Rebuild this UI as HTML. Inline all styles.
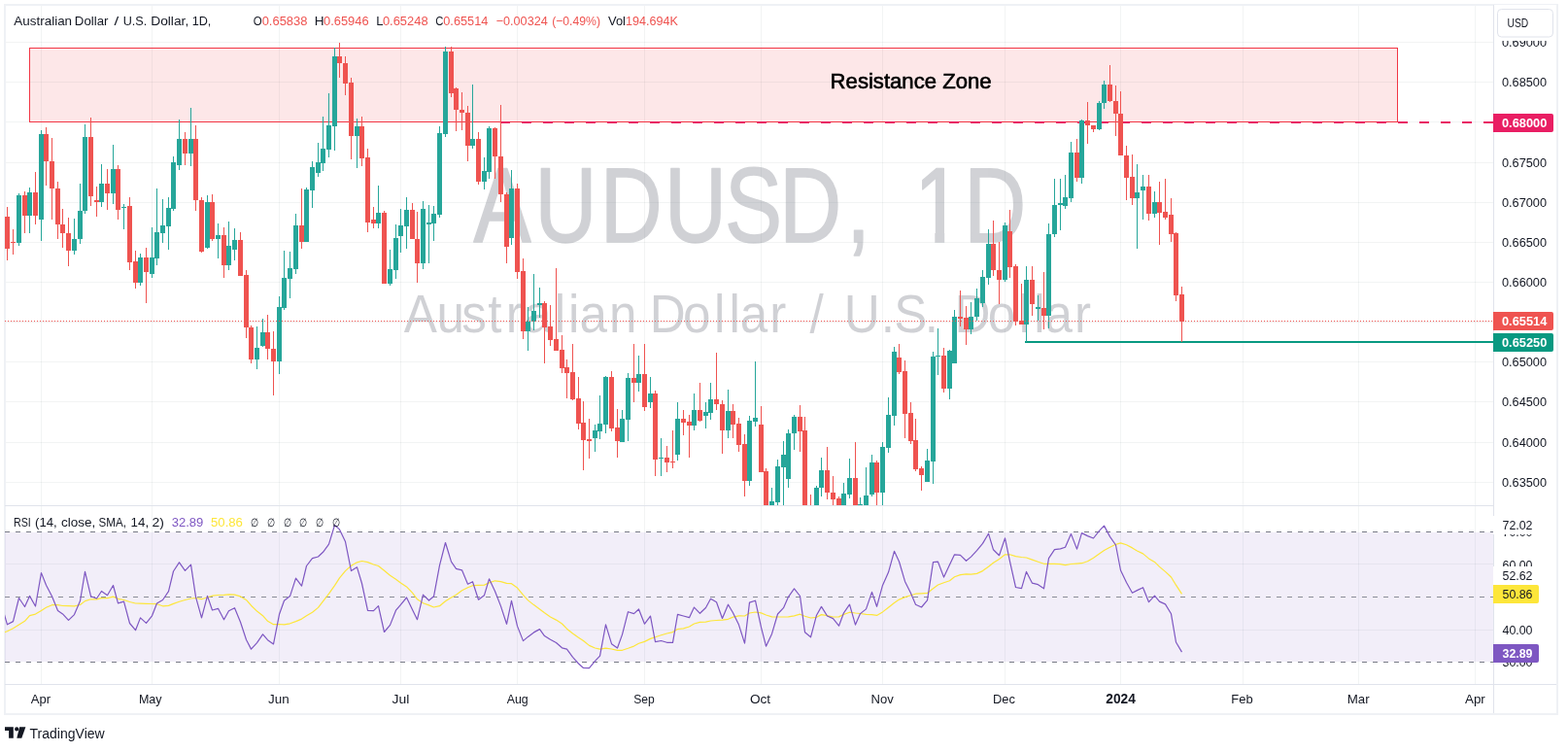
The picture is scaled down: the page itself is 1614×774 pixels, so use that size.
<!DOCTYPE html>
<html><head><meta charset="utf-8"><title>AUDUSD 1D</title>
<style>
html,body{margin:0;padding:0;background:#fff;}
body{width:1614px;height:774px;overflow:hidden;}
svg{display:block;}
text{font-family:'Liberation Sans', Arial, sans-serif;}
</style></head><body>
<svg width="1614" height="774" viewBox="0 0 1614 774">
<rect x="0" y="0" width="1614" height="774" fill="#ffffff"/>

<defs><clipPath id="mainclip"><rect x="5" y="5" width="1532" height="515"/></clipPath><clipPath id="rsiclip"><rect x="5" y="521" width="1532" height="183"/></clipPath></defs>
<rect x="42" y="5" width="1" height="699" fill="rgba(30,60,60,0.06)"/><rect x="156" y="5" width="1" height="699" fill="rgba(30,60,60,0.06)"/><rect x="287" y="5" width="1" height="699" fill="rgba(30,60,60,0.06)"/><rect x="412" y="5" width="1" height="699" fill="rgba(30,60,60,0.06)"/><rect x="532" y="5" width="1" height="699" fill="rgba(30,60,60,0.06)"/><rect x="663" y="5" width="1" height="699" fill="rgba(30,60,60,0.06)"/><rect x="783" y="5" width="1" height="699" fill="rgba(30,60,60,0.06)"/><rect x="908" y="5" width="1" height="699" fill="rgba(30,60,60,0.06)"/><rect x="1034" y="5" width="1" height="699" fill="rgba(30,60,60,0.06)"/><rect x="1153" y="5" width="1" height="699" fill="rgba(30,60,60,0.06)"/><rect x="1279" y="5" width="1" height="699" fill="rgba(30,60,60,0.06)"/><rect x="1398" y="5" width="1" height="699" fill="rgba(30,60,60,0.06)"/><rect x="1518" y="5" width="1" height="699" fill="rgba(30,60,60,0.06)"/><rect x="5" y="43" width="1532" height="1" fill="rgba(30,60,60,0.06)"/><rect x="5" y="84" width="1532" height="1" fill="rgba(30,60,60,0.06)"/><rect x="5" y="125" width="1532" height="1" fill="rgba(30,60,60,0.06)"/><rect x="5" y="167" width="1532" height="1" fill="rgba(30,60,60,0.06)"/><rect x="5" y="208" width="1532" height="1" fill="rgba(30,60,60,0.06)"/><rect x="5" y="249" width="1532" height="1" fill="rgba(30,60,60,0.06)"/><rect x="5" y="290" width="1532" height="1" fill="rgba(30,60,60,0.06)"/><rect x="5" y="331" width="1532" height="1" fill="rgba(30,60,60,0.06)"/><rect x="5" y="372" width="1532" height="1" fill="rgba(30,60,60,0.06)"/><rect x="5" y="413" width="1532" height="1" fill="rgba(30,60,60,0.06)"/><rect x="5" y="455" width="1532" height="1" fill="rgba(30,60,60,0.06)"/><rect x="5" y="496" width="1532" height="1" fill="rgba(30,60,60,0.06)"/><rect x="5" y="580" width="1532" height="1" fill="rgba(30,60,60,0.06)"/><rect x="5" y="648" width="1532" height="1" fill="rgba(30,60,60,0.06)"/>
<rect x="5" y="5" width="1598" height="730" fill="none" stroke="#eff1f5" stroke-width="2"/><rect x="5" y="520" width="1597" height="1" fill="#e0e3eb"/><rect x="5" y="704" width="1597" height="1" fill="#e0e3eb"/><rect x="1537" y="5" width="1" height="729" fill="#e0e3eb"/>
<defs><clipPath id="wmclip"><path clip-rule="evenodd" d="M0 0 H1614 V774 H0 Z M935 238.2 H962.3 V252 H935 Z M972.2 238.2 H992 V252 H972.2 Z"/></clipPath></defs>
<g opacity="0.34" clip-path="url(#wmclip)"><text transform="scale(0.8158,1)" x="597.73 674.85 757.10 838.50 914.36 983.34 1068.02 1069.02 1153.71 1216.37" y="248.55" font-size="108.58" fill="#787b86" stroke="#787b86" stroke-width="1.5" stroke-linejoin="round" vector-effect="non-scaling-stroke">AUDUSD, 1D</text></g>
<g opacity="0.34"><text transform="scale(0.9295,1)" x="447.28 483.50 511.27 540.27 560.16 580.09 614.03 629.42 641.74 674.60 675.60 719.47 756.29 790.80 807.53 819.58 852.48 853.48 896.69 897.69 934.76 975.55 989.96 1023.96 1024.96 1056.98 1093.80 1128.31 1145.04 1157.09 1189.99" y="342.00" font-size="55.09" fill="#787b86">Australian Dollar / U.S. Dollar</text></g>
<rect x="30.5" y="49.5" width="1408" height="76" fill="rgba(242,54,69,0.12)" stroke="#f23645" stroke-width="1"/>
<text x="854.63" y="91.3" font-size="21.51" fill="#000000" textLength="165.93" lengthAdjust="spacingAndGlyphs" stroke="#000000" stroke-width="0.6">Resistance Zone</text>
<line x1="515" y1="126" x2="1537" y2="126" stroke="#e91e63" stroke-width="2" stroke-dasharray="10 12"/>
<line x1="1055" y1="352" x2="1537" y2="352" stroke="#089981" stroke-width="2"/>
<g clip-path="url(#mainclip)" shape-rendering="crispEdges"><rect x="7" y="213" width="1" height="55" fill="#ef5350"/><rect x="5" y="223" width="5" height="33" fill="#ef5350"/><rect x="13" y="236" width="1" height="26" fill="#ef5350"/><rect x="11" y="249" width="5" height="1" fill="#ef5350"/><rect x="19" y="199" width="1" height="54" fill="#26a69a"/><rect x="17" y="201" width="5" height="49" fill="#26a69a"/><rect x="25" y="197" width="1" height="43" fill="#ef5350"/><rect x="23" y="201" width="5" height="21" fill="#ef5350"/><rect x="30" y="193" width="1" height="47" fill="#26a69a"/><rect x="28" y="198" width="5" height="24" fill="#26a69a"/><rect x="36" y="177" width="1" height="54" fill="#ef5350"/><rect x="34" y="198" width="5" height="24" fill="#ef5350"/><rect x="42" y="134" width="1" height="114" fill="#26a69a"/><rect x="40" y="138" width="5" height="88" fill="#26a69a"/><rect x="47" y="131" width="1" height="60" fill="#ef5350"/><rect x="45" y="138" width="5" height="28" fill="#ef5350"/><rect x="53" y="142" width="1" height="84" fill="#ef5350"/><rect x="51" y="166" width="5" height="28" fill="#ef5350"/><rect x="59" y="187" width="1" height="59" fill="#ef5350"/><rect x="57" y="194" width="5" height="37" fill="#ef5350"/><rect x="64" y="215" width="1" height="40" fill="#ef5350"/><rect x="62" y="231" width="5" height="9" fill="#ef5350"/><rect x="70" y="224" width="1" height="50" fill="#ef5350"/><rect x="68" y="240" width="5" height="18" fill="#ef5350"/><rect x="76" y="225" width="1" height="37" fill="#26a69a"/><rect x="74" y="246" width="5" height="12" fill="#26a69a"/><rect x="82" y="189" width="1" height="62" fill="#26a69a"/><rect x="80" y="217" width="5" height="29" fill="#26a69a"/><rect x="87" y="128" width="1" height="92" fill="#26a69a"/><rect x="85" y="141" width="5" height="76" fill="#26a69a"/><rect x="93" y="121" width="1" height="91" fill="#ef5350"/><rect x="91" y="141" width="5" height="61" fill="#ef5350"/><rect x="99" y="192" width="1" height="31" fill="#ef5350"/><rect x="97" y="206" width="5" height="2" fill="#ef5350"/><rect x="104" y="169" width="1" height="44" fill="#26a69a"/><rect x="102" y="189" width="5" height="19" fill="#26a69a"/><rect x="110" y="174" width="1" height="42" fill="#ef5350"/><rect x="108" y="189" width="5" height="10" fill="#ef5350"/><rect x="116" y="149" width="1" height="61" fill="#26a69a"/><rect x="114" y="174" width="5" height="25" fill="#26a69a"/><rect x="121" y="170" width="1" height="56" fill="#ef5350"/><rect x="119" y="174" width="5" height="42" fill="#ef5350"/><rect x="127" y="210" width="1" height="26" fill="#26a69a"/><rect x="125" y="213" width="5" height="1" fill="#26a69a"/><rect x="133" y="203" width="1" height="75" fill="#ef5350"/><rect x="131" y="212" width="5" height="58" fill="#ef5350"/><rect x="139" y="258" width="1" height="39" fill="#ef5350"/><rect x="137" y="269" width="5" height="22" fill="#ef5350"/><rect x="144" y="261" width="1" height="33" fill="#26a69a"/><rect x="142" y="265" width="5" height="26" fill="#26a69a"/><rect x="150" y="255" width="1" height="57" fill="#ef5350"/><rect x="148" y="265" width="5" height="15" fill="#ef5350"/><rect x="156" y="234" width="1" height="52" fill="#26a69a"/><rect x="154" y="265" width="5" height="17" fill="#26a69a"/><rect x="161" y="194" width="1" height="79" fill="#26a69a"/><rect x="159" y="239" width="5" height="27" fill="#26a69a"/><rect x="167" y="205" width="1" height="45" fill="#26a69a"/><rect x="165" y="232" width="5" height="8" fill="#26a69a"/><rect x="173" y="203" width="1" height="54" fill="#26a69a"/><rect x="171" y="214" width="5" height="19" fill="#26a69a"/><rect x="178" y="161" width="1" height="56" fill="#26a69a"/><rect x="176" y="167" width="5" height="48" fill="#26a69a"/><rect x="184" y="123" width="1" height="52" fill="#26a69a"/><rect x="182" y="143" width="5" height="27" fill="#26a69a"/><rect x="190" y="136" width="1" height="34" fill="#ef5350"/><rect x="188" y="143" width="5" height="15" fill="#ef5350"/><rect x="196" y="111" width="1" height="60" fill="#26a69a"/><rect x="194" y="143" width="5" height="15" fill="#26a69a"/><rect x="201" y="129" width="1" height="88" fill="#ef5350"/><rect x="199" y="143" width="5" height="63" fill="#ef5350"/><rect x="207" y="203" width="1" height="57" fill="#ef5350"/><rect x="205" y="206" width="5" height="53" fill="#ef5350"/><rect x="213" y="201" width="1" height="55" fill="#26a69a"/><rect x="211" y="208" width="5" height="47" fill="#26a69a"/><rect x="218" y="200" width="1" height="48" fill="#ef5350"/><rect x="216" y="208" width="5" height="38" fill="#ef5350"/><rect x="224" y="230" width="1" height="36" fill="#26a69a"/><rect x="222" y="242" width="5" height="4" fill="#26a69a"/><rect x="230" y="234" width="1" height="52" fill="#ef5350"/><rect x="228" y="242" width="5" height="31" fill="#ef5350"/><rect x="235" y="228" width="1" height="50" fill="#26a69a"/><rect x="233" y="253" width="5" height="20" fill="#26a69a"/><rect x="241" y="235" width="1" height="33" fill="#26a69a"/><rect x="239" y="247" width="5" height="10" fill="#26a69a"/><rect x="247" y="239" width="1" height="45" fill="#ef5350"/><rect x="245" y="247" width="5" height="37" fill="#ef5350"/><rect x="253" y="278" width="1" height="70" fill="#ef5350"/><rect x="251" y="283" width="5" height="54" fill="#ef5350"/><rect x="258" y="335" width="1" height="39" fill="#ef5350"/><rect x="256" y="337" width="5" height="33" fill="#ef5350"/><rect x="264" y="336" width="1" height="44" fill="#26a69a"/><rect x="262" y="358" width="5" height="12" fill="#26a69a"/><rect x="270" y="328" width="1" height="29" fill="#26a69a"/><rect x="268" y="342" width="5" height="14" fill="#26a69a"/><rect x="275" y="324" width="1" height="46" fill="#ef5350"/><rect x="273" y="342" width="5" height="17" fill="#ef5350"/><rect x="281" y="341" width="1" height="66" fill="#ef5350"/><rect x="279" y="359" width="5" height="13" fill="#ef5350"/><rect x="287" y="305" width="1" height="80" fill="#26a69a"/><rect x="285" y="316" width="5" height="56" fill="#26a69a"/><rect x="292" y="258" width="1" height="61" fill="#26a69a"/><rect x="290" y="286" width="5" height="31" fill="#26a69a"/><rect x="298" y="259" width="1" height="48" fill="#26a69a"/><rect x="296" y="276" width="5" height="11" fill="#26a69a"/><rect x="304" y="220" width="1" height="62" fill="#26a69a"/><rect x="302" y="232" width="5" height="45" fill="#26a69a"/><rect x="310" y="194" width="1" height="62" fill="#ef5350"/><rect x="308" y="232" width="5" height="17" fill="#ef5350"/><rect x="315" y="193" width="1" height="56" fill="#26a69a"/><rect x="313" y="195" width="5" height="54" fill="#26a69a"/><rect x="321" y="166" width="1" height="48" fill="#26a69a"/><rect x="319" y="172" width="5" height="24" fill="#26a69a"/><rect x="327" y="147" width="1" height="35" fill="#26a69a"/><rect x="325" y="167" width="5" height="11" fill="#26a69a"/><rect x="332" y="120" width="1" height="56" fill="#26a69a"/><rect x="330" y="153" width="5" height="15" fill="#26a69a"/><rect x="338" y="96" width="1" height="66" fill="#26a69a"/><rect x="336" y="129" width="5" height="25" fill="#26a69a"/><rect x="344" y="49" width="1" height="106" fill="#26a69a"/><rect x="342" y="58" width="5" height="72" fill="#26a69a"/><rect x="349" y="44" width="1" height="36" fill="#ef5350"/><rect x="347" y="58" width="5" height="7" fill="#ef5350"/><rect x="355" y="58" width="1" height="40" fill="#ef5350"/><rect x="353" y="65" width="5" height="21" fill="#ef5350"/><rect x="361" y="80" width="1" height="84" fill="#ef5350"/><rect x="359" y="85" width="5" height="55" fill="#ef5350"/><rect x="367" y="122" width="1" height="51" fill="#26a69a"/><rect x="365" y="130" width="5" height="10" fill="#26a69a"/><rect x="372" y="120" width="1" height="51" fill="#ef5350"/><rect x="370" y="130" width="5" height="33" fill="#ef5350"/><rect x="378" y="153" width="1" height="86" fill="#ef5350"/><rect x="376" y="162" width="5" height="67" fill="#ef5350"/><rect x="384" y="213" width="1" height="22" fill="#ef5350"/><rect x="382" y="226" width="5" height="4" fill="#ef5350"/><rect x="389" y="191" width="1" height="44" fill="#26a69a"/><rect x="387" y="219" width="5" height="11" fill="#26a69a"/><rect x="395" y="217" width="1" height="75" fill="#ef5350"/><rect x="393" y="219" width="5" height="73" fill="#ef5350"/><rect x="401" y="257" width="1" height="37" fill="#26a69a"/><rect x="399" y="277" width="5" height="15" fill="#26a69a"/><rect x="407" y="231" width="1" height="56" fill="#26a69a"/><rect x="405" y="245" width="5" height="33" fill="#26a69a"/><rect x="412" y="215" width="1" height="45" fill="#26a69a"/><rect x="410" y="232" width="5" height="11" fill="#26a69a"/><rect x="418" y="203" width="1" height="53" fill="#26a69a"/><rect x="416" y="216" width="5" height="17" fill="#26a69a"/><rect x="424" y="209" width="1" height="37" fill="#ef5350"/><rect x="422" y="216" width="5" height="30" fill="#ef5350"/><rect x="429" y="218" width="1" height="73" fill="#ef5350"/><rect x="427" y="246" width="5" height="25" fill="#ef5350"/><rect x="435" y="207" width="1" height="70" fill="#26a69a"/><rect x="433" y="215" width="5" height="56" fill="#26a69a"/><rect x="441" y="211" width="1" height="60" fill="#26a69a"/><rect x="439" y="229" width="5" height="2" fill="#26a69a"/><rect x="446" y="212" width="1" height="36" fill="#26a69a"/><rect x="444" y="220" width="5" height="10" fill="#26a69a"/><rect x="452" y="130" width="1" height="94" fill="#26a69a"/><rect x="450" y="137" width="5" height="84" fill="#26a69a"/><rect x="458" y="48" width="1" height="93" fill="#26a69a"/><rect x="456" y="53" width="5" height="85" fill="#26a69a"/><rect x="464" y="48" width="1" height="52" fill="#ef5350"/><rect x="462" y="53" width="5" height="43" fill="#ef5350"/><rect x="469" y="90" width="1" height="45" fill="#ef5350"/><rect x="467" y="91" width="5" height="22" fill="#ef5350"/><rect x="475" y="95" width="1" height="39" fill="#ef5350"/><rect x="473" y="113" width="5" height="3" fill="#ef5350"/><rect x="481" y="109" width="1" height="57" fill="#ef5350"/><rect x="479" y="116" width="5" height="34" fill="#ef5350"/><rect x="486" y="87" width="1" height="66" fill="#26a69a"/><rect x="484" y="143" width="5" height="7" fill="#26a69a"/><rect x="492" y="136" width="1" height="54" fill="#ef5350"/><rect x="490" y="143" width="5" height="44" fill="#ef5350"/><rect x="498" y="162" width="1" height="33" fill="#26a69a"/><rect x="496" y="176" width="5" height="11" fill="#26a69a"/><rect x="503" y="130" width="1" height="54" fill="#26a69a"/><rect x="501" y="132" width="5" height="45" fill="#26a69a"/><rect x="509" y="131" width="1" height="53" fill="#ef5350"/><rect x="507" y="132" width="5" height="29" fill="#ef5350"/><rect x="515" y="108" width="1" height="100" fill="#ef5350"/><rect x="513" y="161" width="5" height="39" fill="#ef5350"/><rect x="521" y="198" width="1" height="73" fill="#ef5350"/><rect x="519" y="200" width="5" height="54" fill="#ef5350"/><rect x="526" y="175" width="1" height="77" fill="#26a69a"/><rect x="524" y="194" width="5" height="51" fill="#26a69a"/><rect x="532" y="189" width="1" height="98" fill="#ef5350"/><rect x="530" y="194" width="5" height="86" fill="#ef5350"/><rect x="538" y="266" width="1" height="83" fill="#ef5350"/><rect x="536" y="279" width="5" height="62" fill="#ef5350"/><rect x="543" y="316" width="1" height="45" fill="#26a69a"/><rect x="541" y="331" width="5" height="10" fill="#26a69a"/><rect x="549" y="282" width="1" height="58" fill="#26a69a"/><rect x="547" y="320" width="5" height="11" fill="#26a69a"/><rect x="555" y="296" width="1" height="31" fill="#26a69a"/><rect x="553" y="312" width="5" height="2" fill="#26a69a"/><rect x="560" y="310" width="1" height="64" fill="#ef5350"/><rect x="558" y="312" width="5" height="25" fill="#ef5350"/><rect x="566" y="314" width="1" height="42" fill="#ef5350"/><rect x="564" y="336" width="5" height="14" fill="#ef5350"/><rect x="572" y="276" width="1" height="85" fill="#ef5350"/><rect x="570" y="349" width="5" height="12" fill="#ef5350"/><rect x="578" y="345" width="1" height="39" fill="#ef5350"/><rect x="576" y="360" width="5" height="19" fill="#ef5350"/><rect x="583" y="370" width="1" height="40" fill="#ef5350"/><rect x="581" y="378" width="5" height="6" fill="#ef5350"/><rect x="589" y="354" width="1" height="58" fill="#ef5350"/><rect x="587" y="383" width="5" height="28" fill="#ef5350"/><rect x="595" y="388" width="1" height="54" fill="#ef5350"/><rect x="593" y="410" width="5" height="26" fill="#ef5350"/><rect x="600" y="413" width="1" height="71" fill="#ef5350"/><rect x="598" y="435" width="5" height="18" fill="#ef5350"/><rect x="606" y="431" width="1" height="41" fill="#ef5350"/><rect x="604" y="452" width="5" height="2" fill="#ef5350"/><rect x="612" y="437" width="1" height="28" fill="#26a69a"/><rect x="610" y="443" width="5" height="8" fill="#26a69a"/><rect x="617" y="407" width="1" height="45" fill="#26a69a"/><rect x="615" y="436" width="5" height="8" fill="#26a69a"/><rect x="623" y="387" width="1" height="59" fill="#26a69a"/><rect x="621" y="388" width="5" height="49" fill="#26a69a"/><rect x="629" y="382" width="1" height="62" fill="#ef5350"/><rect x="627" y="388" width="5" height="53" fill="#ef5350"/><rect x="635" y="421" width="1" height="50" fill="#ef5350"/><rect x="633" y="440" width="5" height="14" fill="#ef5350"/><rect x="640" y="422" width="1" height="33" fill="#26a69a"/><rect x="638" y="431" width="5" height="24" fill="#26a69a"/><rect x="646" y="384" width="1" height="70" fill="#26a69a"/><rect x="644" y="389" width="5" height="43" fill="#26a69a"/><rect x="652" y="354" width="1" height="60" fill="#ef5350"/><rect x="650" y="389" width="5" height="5" fill="#ef5350"/><rect x="657" y="366" width="1" height="37" fill="#26a69a"/><rect x="655" y="385" width="5" height="9" fill="#26a69a"/><rect x="663" y="354" width="1" height="69" fill="#ef5350"/><rect x="661" y="385" width="5" height="34" fill="#ef5350"/><rect x="669" y="388" width="1" height="32" fill="#26a69a"/><rect x="667" y="405" width="5" height="9" fill="#26a69a"/><rect x="674" y="402" width="1" height="88" fill="#ef5350"/><rect x="672" y="405" width="5" height="68" fill="#ef5350"/><rect x="680" y="451" width="1" height="39" fill="#26a69a"/><rect x="678" y="471" width="5" height="1" fill="#26a69a"/><rect x="686" y="459" width="1" height="27" fill="#ef5350"/><rect x="684" y="471" width="5" height="5" fill="#ef5350"/><rect x="692" y="443" width="1" height="39" fill="#ef5350"/><rect x="690" y="475" width="5" height="1" fill="#ef5350"/><rect x="697" y="414" width="1" height="60" fill="#26a69a"/><rect x="695" y="431" width="5" height="37" fill="#26a69a"/><rect x="703" y="422" width="1" height="26" fill="#ef5350"/><rect x="701" y="431" width="5" height="4" fill="#ef5350"/><rect x="709" y="427" width="1" height="44" fill="#ef5350"/><rect x="707" y="434" width="5" height="4" fill="#ef5350"/><rect x="714" y="405" width="1" height="38" fill="#26a69a"/><rect x="712" y="422" width="5" height="16" fill="#26a69a"/><rect x="720" y="394" width="1" height="40" fill="#ef5350"/><rect x="718" y="422" width="5" height="11" fill="#ef5350"/><rect x="726" y="414" width="1" height="27" fill="#26a69a"/><rect x="724" y="424" width="5" height="4" fill="#26a69a"/><rect x="731" y="394" width="1" height="38" fill="#26a69a"/><rect x="729" y="411" width="5" height="14" fill="#26a69a"/><rect x="737" y="363" width="1" height="59" fill="#ef5350"/><rect x="735" y="411" width="5" height="5" fill="#ef5350"/><rect x="743" y="412" width="1" height="55" fill="#ef5350"/><rect x="741" y="416" width="5" height="27" fill="#ef5350"/><rect x="749" y="401" width="1" height="50" fill="#26a69a"/><rect x="747" y="423" width="5" height="20" fill="#26a69a"/><rect x="754" y="416" width="1" height="35" fill="#ef5350"/><rect x="752" y="423" width="5" height="14" fill="#ef5350"/><rect x="760" y="430" width="1" height="35" fill="#ef5350"/><rect x="758" y="436" width="5" height="22" fill="#ef5350"/><rect x="766" y="447" width="1" height="64" fill="#ef5350"/><rect x="764" y="457" width="5" height="38" fill="#ef5350"/><rect x="771" y="428" width="1" height="72" fill="#26a69a"/><rect x="769" y="433" width="5" height="62" fill="#26a69a"/><rect x="777" y="372" width="1" height="67" fill="#26a69a"/><rect x="775" y="430" width="5" height="4" fill="#26a69a"/><rect x="783" y="418" width="1" height="68" fill="#ef5350"/><rect x="781" y="437" width="5" height="49" fill="#ef5350"/><rect x="788" y="482" width="1" height="66" fill="#ef5350"/><rect x="786" y="485" width="5" height="52" fill="#ef5350"/><rect x="794" y="502" width="1" height="40" fill="#26a69a"/><rect x="792" y="516" width="5" height="19" fill="#26a69a"/><rect x="800" y="473" width="1" height="57" fill="#26a69a"/><rect x="798" y="480" width="5" height="37" fill="#26a69a"/><rect x="806" y="454" width="1" height="91" fill="#26a69a"/><rect x="804" y="468" width="5" height="13" fill="#26a69a"/><rect x="811" y="442" width="1" height="60" fill="#26a69a"/><rect x="809" y="446" width="5" height="47" fill="#26a69a"/><rect x="817" y="427" width="1" height="36" fill="#26a69a"/><rect x="815" y="429" width="5" height="17" fill="#26a69a"/><rect x="823" y="417" width="1" height="48" fill="#ef5350"/><rect x="821" y="429" width="5" height="15" fill="#ef5350"/><rect x="828" y="429" width="1" height="111" fill="#ef5350"/><rect x="826" y="443" width="5" height="87" fill="#ef5350"/><rect x="834" y="509" width="1" height="43" fill="#ef5350"/><rect x="832" y="530" width="5" height="15" fill="#ef5350"/><rect x="840" y="500" width="1" height="48" fill="#26a69a"/><rect x="838" y="502" width="5" height="38" fill="#26a69a"/><rect x="845" y="471" width="1" height="40" fill="#26a69a"/><rect x="843" y="484" width="5" height="18" fill="#26a69a"/><rect x="851" y="460" width="1" height="54" fill="#ef5350"/><rect x="849" y="484" width="5" height="23" fill="#ef5350"/><rect x="857" y="490" width="1" height="40" fill="#ef5350"/><rect x="855" y="507" width="5" height="7" fill="#ef5350"/><rect x="863" y="511" width="1" height="29" fill="#ef5350"/><rect x="861" y="513" width="5" height="19" fill="#ef5350"/><rect x="868" y="497" width="1" height="39" fill="#26a69a"/><rect x="866" y="508" width="5" height="24" fill="#26a69a"/><rect x="874" y="472" width="1" height="41" fill="#26a69a"/><rect x="872" y="492" width="5" height="17" fill="#26a69a"/><rect x="880" y="455" width="1" height="105" fill="#ef5350"/><rect x="878" y="492" width="5" height="48" fill="#ef5350"/><rect x="885" y="512" width="1" height="36" fill="#26a69a"/><rect x="883" y="519" width="5" height="21" fill="#26a69a"/><rect x="891" y="481" width="1" height="57" fill="#26a69a"/><rect x="889" y="510" width="5" height="22" fill="#26a69a"/><rect x="897" y="468" width="1" height="43" fill="#26a69a"/><rect x="895" y="476" width="5" height="33" fill="#26a69a"/><rect x="902" y="474" width="1" height="56" fill="#ef5350"/><rect x="900" y="476" width="5" height="31" fill="#ef5350"/><rect x="908" y="455" width="1" height="73" fill="#26a69a"/><rect x="906" y="460" width="5" height="47" fill="#26a69a"/><rect x="914" y="409" width="1" height="57" fill="#26a69a"/><rect x="912" y="427" width="5" height="34" fill="#26a69a"/><rect x="920" y="357" width="1" height="81" fill="#26a69a"/><rect x="918" y="362" width="5" height="66" fill="#26a69a"/><rect x="925" y="354" width="1" height="31" fill="#ef5350"/><rect x="923" y="368" width="5" height="15" fill="#ef5350"/><rect x="931" y="371" width="1" height="80" fill="#ef5350"/><rect x="929" y="382" width="5" height="44" fill="#ef5350"/><rect x="937" y="414" width="1" height="43" fill="#ef5350"/><rect x="935" y="425" width="5" height="29" fill="#ef5350"/><rect x="942" y="431" width="1" height="54" fill="#ef5350"/><rect x="940" y="453" width="5" height="30" fill="#ef5350"/><rect x="948" y="480" width="1" height="25" fill="#ef5350"/><rect x="946" y="482" width="5" height="7" fill="#ef5350"/><rect x="954" y="462" width="1" height="34" fill="#26a69a"/><rect x="952" y="474" width="5" height="22" fill="#26a69a"/><rect x="960" y="362" width="1" height="136" fill="#26a69a"/><rect x="958" y="367" width="5" height="108" fill="#26a69a"/><rect x="965" y="338" width="1" height="48" fill="#26a69a"/><rect x="963" y="366" width="5" height="1" fill="#26a69a"/><rect x="971" y="358" width="1" height="46" fill="#ef5350"/><rect x="969" y="366" width="5" height="34" fill="#ef5350"/><rect x="977" y="360" width="1" height="51" fill="#26a69a"/><rect x="975" y="361" width="5" height="39" fill="#26a69a"/><rect x="982" y="319" width="1" height="55" fill="#26a69a"/><rect x="980" y="326" width="5" height="48" fill="#26a69a"/><rect x="988" y="299" width="1" height="37" fill="#ef5350"/><rect x="986" y="326" width="5" height="2" fill="#ef5350"/><rect x="994" y="315" width="1" height="40" fill="#ef5350"/><rect x="992" y="327" width="5" height="12" fill="#ef5350"/><rect x="999" y="311" width="1" height="33" fill="#26a69a"/><rect x="997" y="326" width="5" height="13" fill="#26a69a"/><rect x="1005" y="297" width="1" height="33" fill="#26a69a"/><rect x="1003" y="307" width="5" height="19" fill="#26a69a"/><rect x="1011" y="278" width="1" height="38" fill="#26a69a"/><rect x="1009" y="285" width="5" height="27" fill="#26a69a"/><rect x="1017" y="236" width="1" height="57" fill="#26a69a"/><rect x="1015" y="251" width="5" height="35" fill="#26a69a"/><rect x="1022" y="227" width="1" height="57" fill="#ef5350"/><rect x="1020" y="251" width="5" height="27" fill="#ef5350"/><rect x="1028" y="249" width="1" height="64" fill="#ef5350"/><rect x="1026" y="278" width="5" height="10" fill="#ef5350"/><rect x="1034" y="229" width="1" height="61" fill="#26a69a"/><rect x="1032" y="232" width="5" height="56" fill="#26a69a"/><rect x="1039" y="216" width="1" height="70" fill="#ef5350"/><rect x="1037" y="238" width="5" height="37" fill="#ef5350"/><rect x="1045" y="272" width="1" height="63" fill="#ef5350"/><rect x="1043" y="274" width="5" height="57" fill="#ef5350"/><rect x="1051" y="292" width="1" height="42" fill="#ef5350"/><rect x="1049" y="330" width="5" height="4" fill="#ef5350"/><rect x="1056" y="274" width="1" height="78" fill="#26a69a"/><rect x="1054" y="288" width="5" height="46" fill="#26a69a"/><rect x="1062" y="274" width="1" height="51" fill="#ef5350"/><rect x="1060" y="288" width="5" height="25" fill="#ef5350"/><rect x="1068" y="304" width="1" height="26" fill="#26a69a"/><rect x="1066" y="316" width="5" height="2" fill="#26a69a"/><rect x="1074" y="280" width="1" height="59" fill="#ef5350"/><rect x="1072" y="317" width="5" height="8" fill="#ef5350"/><rect x="1079" y="230" width="1" height="108" fill="#26a69a"/><rect x="1077" y="241" width="5" height="84" fill="#26a69a"/><rect x="1085" y="184" width="1" height="60" fill="#26a69a"/><rect x="1083" y="211" width="5" height="30" fill="#26a69a"/><rect x="1091" y="184" width="1" height="53" fill="#26a69a"/><rect x="1089" y="209" width="5" height="2" fill="#26a69a"/><rect x="1096" y="180" width="1" height="35" fill="#26a69a"/><rect x="1094" y="203" width="5" height="9" fill="#26a69a"/><rect x="1102" y="146" width="1" height="62" fill="#26a69a"/><rect x="1100" y="157" width="5" height="47" fill="#26a69a"/><rect x="1108" y="143" width="1" height="44" fill="#ef5350"/><rect x="1106" y="157" width="5" height="26" fill="#ef5350"/><rect x="1113" y="123" width="1" height="66" fill="#26a69a"/><rect x="1111" y="124" width="5" height="59" fill="#26a69a"/><rect x="1119" y="105" width="1" height="43" fill="#ef5350"/><rect x="1117" y="124" width="5" height="5" fill="#ef5350"/><rect x="1125" y="129" width="1" height="7" fill="#ef5350"/><rect x="1123" y="129" width="5" height="4" fill="#ef5350"/><rect x="1131" y="104" width="1" height="30" fill="#26a69a"/><rect x="1129" y="106" width="5" height="27" fill="#26a69a"/><rect x="1136" y="83" width="1" height="29" fill="#26a69a"/><rect x="1134" y="87" width="5" height="19" fill="#26a69a"/><rect x="1142" y="67" width="1" height="38" fill="#ef5350"/><rect x="1140" y="87" width="5" height="17" fill="#ef5350"/><rect x="1148" y="88" width="1" height="52" fill="#ef5350"/><rect x="1146" y="104" width="5" height="13" fill="#ef5350"/><rect x="1153" y="94" width="1" height="66" fill="#ef5350"/><rect x="1151" y="117" width="5" height="43" fill="#ef5350"/><rect x="1159" y="150" width="1" height="56" fill="#ef5350"/><rect x="1157" y="160" width="5" height="23" fill="#ef5350"/><rect x="1165" y="159" width="1" height="52" fill="#ef5350"/><rect x="1163" y="182" width="5" height="22" fill="#ef5350"/><rect x="1170" y="169" width="1" height="87" fill="#26a69a"/><rect x="1168" y="198" width="5" height="6" fill="#26a69a"/><rect x="1176" y="180" width="1" height="46" fill="#26a69a"/><rect x="1174" y="192" width="5" height="4" fill="#26a69a"/><rect x="1182" y="180" width="1" height="47" fill="#ef5350"/><rect x="1180" y="192" width="5" height="28" fill="#ef5350"/><rect x="1188" y="197" width="1" height="27" fill="#26a69a"/><rect x="1186" y="208" width="5" height="12" fill="#26a69a"/><rect x="1193" y="187" width="1" height="65" fill="#ef5350"/><rect x="1191" y="208" width="5" height="11" fill="#ef5350"/><rect x="1199" y="184" width="1" height="42" fill="#ef5350"/><rect x="1197" y="218" width="5" height="6" fill="#ef5350"/><rect x="1205" y="204" width="1" height="45" fill="#ef5350"/><rect x="1203" y="221" width="5" height="20" fill="#ef5350"/><rect x="1210" y="239" width="1" height="71" fill="#ef5350"/><rect x="1208" y="240" width="5" height="64" fill="#ef5350"/><rect x="1216" y="295" width="1" height="57" fill="#ef5350"/><rect x="1214" y="303" width="5" height="28" fill="#ef5350"/></g>
<line x1="5" y1="330.5" x2="1537" y2="330.5" stroke="#ef5350" stroke-width="1" stroke-dasharray="1 2"/>
<text x="14.30" y="26.0" font-size="13.08" fill="#131722" textLength="59.80" lengthAdjust="spacingAndGlyphs">Australian</text>
<text x="76.84" y="26.0" font-size="13.08" fill="#131722" textLength="34.62" lengthAdjust="spacingAndGlyphs">Dollar</text>
<text x="117.50" y="26.0" font-size="13.08" fill="#131722" textLength="4.66" lengthAdjust="spacingAndGlyphs">/</text>
<text x="126.69" y="26.0" font-size="13.08" fill="#131722" textLength="24.58" lengthAdjust="spacingAndGlyphs">U.S.</text>
<text x="155.20" y="26.0" font-size="13.08" fill="#131722" textLength="39.07" lengthAdjust="spacingAndGlyphs">Dollar,</text>
<text x="197.72" y="26.0" font-size="13.08" fill="#131722" textLength="19.67" lengthAdjust="spacingAndGlyphs">1D,</text>
<text x="260.83" y="26.0" font-size="13.08" fill="#131722" textLength="8.92" lengthAdjust="spacingAndGlyphs">O</text>
<text x="269.68" y="26.0" font-size="13.08" fill="#ef5350" textLength="46.69" lengthAdjust="spacingAndGlyphs">0.65838</text>
<text x="323.71" y="26.0" font-size="13.08" fill="#131722" textLength="9.80" lengthAdjust="spacingAndGlyphs">H</text>
<text x="333.09" y="26.0" font-size="13.08" fill="#ef5350" textLength="46.49" lengthAdjust="spacingAndGlyphs">0.65946</text>
<text x="387.16" y="26.0" font-size="13.08" fill="#131722" textLength="7.20" lengthAdjust="spacingAndGlyphs">L</text>
<text x="393.88" y="26.0" font-size="13.08" fill="#ef5350" textLength="46.69" lengthAdjust="spacingAndGlyphs">0.65248</text>
<text x="448.24" y="26.0" font-size="13.08" fill="#131722" textLength="8.14" lengthAdjust="spacingAndGlyphs">C</text>
<text x="456.29" y="26.0" font-size="13.08" fill="#ef5350" textLength="46.02" lengthAdjust="spacingAndGlyphs">0.65514</text>
<text x="510.67" y="26.0" font-size="13.08" fill="#ef5350" textLength="53.09" lengthAdjust="spacingAndGlyphs">−0.00324</text>
<text x="568.17" y="26.0" font-size="13.08" fill="#ef5350" textLength="49.83" lengthAdjust="spacingAndGlyphs">(−0.49%)</text>
<text x="626.10" y="26.0" font-size="13.08" fill="#131722" textLength="17.87" lengthAdjust="spacingAndGlyphs">Vol</text>
<text x="644.02" y="26.0" font-size="13.08" fill="#ef5350" textLength="53.75" lengthAdjust="spacingAndGlyphs">194.694K</text>
<rect x="1538" y="5" width="64" height="699" fill="#ffffff"/><text x="1546" y="48" font-size="12" fill="#131722" textLength="46" lengthAdjust="spacingAndGlyphs">0.69000</text><text x="1546" y="89" font-size="12" fill="#131722" textLength="46" lengthAdjust="spacingAndGlyphs">0.68500</text><text x="1546" y="130" font-size="12" fill="#131722" textLength="46" lengthAdjust="spacingAndGlyphs">0.68000</text><text x="1546" y="172" font-size="12" fill="#131722" textLength="46" lengthAdjust="spacingAndGlyphs">0.67500</text><text x="1546" y="213" font-size="12" fill="#131722" textLength="46" lengthAdjust="spacingAndGlyphs">0.67000</text><text x="1546" y="254" font-size="12" fill="#131722" textLength="46" lengthAdjust="spacingAndGlyphs">0.66500</text><text x="1546" y="295" font-size="12" fill="#131722" textLength="46" lengthAdjust="spacingAndGlyphs">0.66000</text><text x="1546" y="336" font-size="12" fill="#131722" textLength="46" lengthAdjust="spacingAndGlyphs">0.65500</text><text x="1546" y="377" font-size="12" fill="#131722" textLength="46" lengthAdjust="spacingAndGlyphs">0.65000</text><text x="1546" y="418" font-size="12" fill="#131722" textLength="46" lengthAdjust="spacingAndGlyphs">0.64500</text><text x="1546" y="460" font-size="12" fill="#131722" textLength="46" lengthAdjust="spacingAndGlyphs">0.64000</text><text x="1546" y="501" font-size="12" fill="#131722" textLength="46" lengthAdjust="spacingAndGlyphs">0.63500</text><rect x="1538" y="5" width="64" height="37" fill="#ffffff"/><rect x="1541.5" y="9.5" width="57" height="28.5" rx="4" fill="#ffffff" stroke="#e0e3eb" stroke-width="1"/><text x="1551.6" y="28" font-size="12" fill="#131722" textLength="21.7" lengthAdjust="spacingAndGlyphs">USD</text><path d="M1537 117 H1597 a2 2 0 0 1 2 2 V134 a2 2 0 0 1 -2 2 H1537 Z" fill="#e91e63"/><text x="1546" y="131" font-size="12" font-weight="bold" fill="#ffffff" textLength="46.3" lengthAdjust="spacingAndGlyphs">0.68000</text><path d="M1537 321 H1597 a2 2 0 0 1 2 2 V338 a2 2 0 0 1 -2 2 H1537 Z" fill="#ef5350"/><text x="1546" y="335" font-size="12" font-weight="bold" fill="#ffffff" textLength="46.3" lengthAdjust="spacingAndGlyphs">0.65514</text><path d="M1537 343 H1597 a2 2 0 0 1 2 2 V360 a2 2 0 0 1 -2 2 H1537 Z" fill="#089981"/><text x="1546" y="357" font-size="12" font-weight="bold" fill="#ffffff" textLength="46.3" lengthAdjust="spacingAndGlyphs">0.65250</text>
<rect x="5" y="548" width="1532" height="133" fill="rgba(126,87,194,0.1)"/><line x1="5" y1="547.5" x2="1537" y2="547.5" stroke="#787b86" stroke-width="1" stroke-dasharray="5 6"/><line x1="5" y1="614.5" x2="1537" y2="614.5" stroke="rgba(120,123,134,0.85)" stroke-width="1" stroke-dasharray="5 6"/><line x1="5" y1="681.5" x2="1537" y2="681.5" stroke="#787b86" stroke-width="1" stroke-dasharray="5 6"/>
<g clip-path="url(#rsiclip)" fill="none" stroke-linejoin="round">
<polyline points="2.2,651.8 7.5,649.7 13.5,646.8 19.5,642.9 25.5,639.3 30.5,633.6 36.5,632.1 42.5,628.4 47.5,625.3 53.5,622.7 59.5,622.6 64.5,623.5 70.5,623.7 76.5,623.9 82.5,622.5 87.5,618.6 93.5,616.8 99.5,616.8 104.5,615.7 110.5,615.6 116.5,614.1 121.5,616.3 127.5,617.5 133.5,619.5 139.5,621.0 144.5,621.2 150.5,621.4 156.5,621.5 161.5,621.7 167.5,623.8 173.5,623.4 178.5,621.4 184.5,619.3 190.5,617.5 196.5,616.0 201.5,615.5 207.5,616.7 213.5,614.7 218.5,613.2 224.5,612.5 230.5,612.3 235.5,611.9 241.5,612.2 247.5,613.9 253.5,617.4 258.5,623.2 264.5,629.1 270.5,633.7 275.5,639.3 281.5,642.7 287.5,642.5 292.5,642.8 298.5,641.8 304.5,639.6 310.5,637.1 315.5,633.8 321.5,630.2 327.5,625.4 332.5,618.9 338.5,611.2 344.5,602.6 349.5,594.9 355.5,587.6 361.5,582.2 367.5,578.8 372.5,577.5 378.5,578.6 384.5,581.0 389.5,582.5 395.5,587.3 401.5,592.2 407.5,596.2 412.5,600.0 418.5,603.9 424.5,610.2 429.5,616.8 435.5,620.7 441.5,622.9 446.5,625.0 452.5,623.7 458.5,618.7 464.5,615.1 469.5,612.3 475.5,607.8 481.5,604.8 486.5,602.7 492.5,602.3 498.5,602.1 503.5,599.9 509.5,597.8 515.5,598.6 521.5,600.4 526.5,600.7 532.5,605.1 538.5,612.4 543.5,617.9 549.5,622.6 555.5,626.9 560.5,630.7 566.5,635.0 572.5,638.1 578.5,642.0 583.5,647.2 589.5,652.0 595.5,656.2 600.5,659.5 606.5,664.4 612.5,667.0 617.5,668.1 623.5,667.2 629.5,668.0 635.5,669.4 640.5,669.3 646.5,667.3 652.5,665.1 657.5,662.3 663.5,660.4 669.5,657.4 674.5,655.8 680.5,653.8 686.5,652.0 692.5,650.6 697.5,647.5 703.5,646.9 709.5,645.0 714.5,642.0 720.5,640.4 726.5,640.1 731.5,639.0 737.5,638.5 743.5,638.1 749.5,637.3 754.5,635.1 760.5,633.9 766.5,634.0 771.5,631.0 777.5,630.0 783.5,630.9 788.5,633.0 794.5,634.9 800.5,635.0 806.5,635.0 811.5,634.8 817.5,633.8 823.5,632.2 828.5,634.2 834.5,636.0 840.5,635.3 845.5,632.6 851.5,633.6 857.5,635.0 863.5,634.9 868.5,632.4 874.5,630.2 880.5,631.0 885.5,631.5 891.5,632.4 897.5,632.6 902.5,633.4 908.5,629.9 914.5,625.2 920.5,620.5 925.5,617.1 931.5,614.6 937.5,612.7 942.5,611.2 948.5,610.8 954.5,610.4 960.5,605.8 965.5,602.0 971.5,599.7 977.5,597.7 982.5,593.8 988.5,591.6 994.5,590.8 999.5,591.2 1005.5,590.4 1011.5,587.6 1017.5,583.2 1022.5,579.2 1028.5,575.4 1034.5,570.8 1039.5,570.8 1045.5,572.6 1051.5,573.5 1056.5,574.0 1062.5,576.1 1068.5,578.2 1074.5,580.3 1079.5,580.4 1085.5,580.3 1091.5,580.7 1096.5,581.7 1102.5,580.5 1108.5,580.1 1113.5,579.7 1119.5,577.8 1125.5,574.2 1131.5,570.0 1136.5,566.6 1142.5,563.2 1148.5,560.3 1153.5,558.9 1159.5,560.7 1165.5,563.9 1170.5,567.0 1176.5,569.9 1182.5,574.9 1188.5,578.4 1193.5,583.4 1199.5,588.4 1205.5,594.0 1210.5,602.2 1216.5,611.4" stroke="#fde63a" stroke-width="1.2"/>
<polyline points="2.2,625.0 7.5,642.8 13.5,639.6 19.5,615.5 25.5,624.5 30.5,613.4 36.5,624.0 42.5,589.6 47.5,602.3 53.5,613.8 59.5,628.5 64.5,631.9 70.5,638.4 76.5,632.6 82.5,618.5 87.5,588.3 93.5,613.7 99.5,616.0 104.5,608.5 110.5,612.7 116.5,602.5 121.5,620.9 127.5,619.2 133.5,641.5 139.5,648.7 144.5,635.9 150.5,641.4 156.5,633.8 161.5,621.0 167.5,617.5 173.5,608.6 178.5,588.0 184.5,578.8 190.5,587.3 196.5,581.2 201.5,614.3 207.5,635.8 213.5,613.4 218.5,628.0 224.5,626.3 230.5,637.8 235.5,628.7 241.5,625.7 247.5,640.3 253.5,658.5 258.5,668.1 264.5,661.6 270.5,652.8 275.5,658.7 281.5,662.9 287.5,632.3 292.5,618.2 298.5,613.6 304.5,595.1 310.5,603.1 315.5,582.5 321.5,574.7 327.5,573.0 332.5,568.3 338.5,560.2 344.5,540.5 349.5,544.9 355.5,557.6 361.5,587.6 367.5,583.8 372.5,600.5 378.5,628.4 384.5,628.7 389.5,623.7 395.5,650.5 401.5,643.4 407.5,628.2 412.5,622.3 418.5,615.0 424.5,627.6 429.5,637.7 435.5,612.1 441.5,618.0 446.5,613.8 452.5,581.9 458.5,558.5 464.5,578.2 469.5,585.4 475.5,586.8 481.5,601.2 486.5,598.7 492.5,617.2 498.5,612.7 503.5,595.8 509.5,608.5 515.5,623.9 521.5,642.3 526.5,618.4 532.5,644.4 538.5,659.6 543.5,655.4 549.5,650.9 555.5,647.6 560.5,654.6 566.5,658.3 572.5,661.5 578.5,666.8 583.5,668.2 589.5,676.3 595.5,683.0 600.5,687.5 606.5,687.7 612.5,680.4 617.5,675.1 623.5,642.9 629.5,662.7 635.5,667.0 640.5,653.1 646.5,629.7 652.5,631.6 657.5,627.0 663.5,642.2 669.5,634.1 674.5,660.7 680.5,659.5 686.5,661.3 692.5,661.3 697.5,632.3 703.5,634.0 709.5,635.7 714.5,625.1 720.5,631.3 726.5,625.5 731.5,616.3 737.5,619.7 743.5,636.5 749.5,622.2 754.5,630.7 760.5,643.1 766.5,662.1 771.5,620.1 777.5,618.2 783.5,645.7 788.5,665.2 794.5,652.4 800.5,632.0 806.5,625.7 811.5,614.3 817.5,605.9 823.5,613.5 828.5,650.7 834.5,655.8 840.5,633.2 845.5,624.4 851.5,634.0 857.5,636.6 863.5,644.2 868.5,630.8 874.5,622.2 880.5,643.1 885.5,631.6 891.5,626.9 897.5,609.4 902.5,624.3 908.5,602.4 914.5,589.1 920.5,567.3 925.5,578.0 931.5,598.4 937.5,610.6 942.5,622.3 948.5,625.0 954.5,617.9 960.5,578.6 965.5,578.2 971.5,594.1 977.5,581.3 982.5,570.8 988.5,571.4 994.5,577.3 999.5,573.1 1005.5,566.7 1011.5,559.4 1017.5,549.2 1022.5,565.8 1028.5,571.7 1034.5,553.9 1039.5,577.9 1045.5,604.5 1051.5,605.6 1056.5,588.4 1062.5,600.2 1068.5,601.7 1074.5,605.8 1079.5,574.6 1085.5,565.7 1091.5,564.9 1096.5,563.2 1102.5,549.6 1108.5,565.1 1113.5,548.6 1119.5,551.6 1125.5,554.0 1131.5,546.3 1136.5,541.1 1142.5,552.4 1148.5,561.0 1153.5,587.0 1159.5,599.5 1165.5,610.2 1170.5,607.6 1176.5,604.7 1182.5,619.7 1188.5,613.2 1193.5,619.1 1199.5,621.9 1205.5,631.8 1210.5,661.0 1216.5,671.1" stroke="#7e57c2" stroke-width="1.2"/>
</g>
<text x="13.95" y="541.8" font-size="12.94" fill="#131722" textLength="17.78" lengthAdjust="spacingAndGlyphs">RSI</text>
<text x="36.01" y="541.8" font-size="12.94" fill="#131722" textLength="22.68" lengthAdjust="spacingAndGlyphs">(14,</text>
<text x="62.96" y="541.8" font-size="12.94" fill="#131722" textLength="35.29" lengthAdjust="spacingAndGlyphs">close,</text>
<text x="101.62" y="541.8" font-size="12.94" fill="#131722" textLength="28.36" lengthAdjust="spacingAndGlyphs">SMA,</text>
<text x="134.56" y="541.8" font-size="12.94" fill="#131722" textLength="18.65" lengthAdjust="spacingAndGlyphs">14,</text>
<text x="156.50" y="541.8" font-size="12.94" fill="#131722" textLength="12.42" lengthAdjust="spacingAndGlyphs">2)</text>
<text x="176.68" y="541.8" font-size="12.94" fill="#7e57c2" textLength="32.67" lengthAdjust="spacingAndGlyphs">32.89</text>
<text x="217.07" y="541.8" font-size="12.94" fill="#fde63a" textLength="32.88" lengthAdjust="spacingAndGlyphs">50.86</text>
<text transform="scale(0.78,1)" x="336.41" y="542.4" font-size="12.5" fill="#131722" text-anchor="middle">∅</text>
<text transform="scale(0.78,1)" x="357.95" y="542.4" font-size="12.5" fill="#131722" text-anchor="middle">∅</text>
<text transform="scale(0.78,1)" x="379.36" y="542.4" font-size="12.5" fill="#131722" text-anchor="middle">∅</text>
<text transform="scale(0.78,1)" x="400.90" y="542.4" font-size="12.5" fill="#131722" text-anchor="middle">∅</text>
<text transform="scale(0.78,1)" x="422.31" y="542.4" font-size="12.5" fill="#131722" text-anchor="middle">∅</text>
<text transform="scale(0.78,1)" x="443.97" y="542.4" font-size="12.5" fill="#131722" text-anchor="middle">∅</text>
<text x="1546.5" y="586" font-size="12" fill="#131722" textLength="31" lengthAdjust="spacingAndGlyphs">60.00</text><text x="1546.5" y="653" font-size="12" fill="#131722" textLength="31" lengthAdjust="spacingAndGlyphs">40.00</text><text x="1546.5" y="686" font-size="12" fill="#131722" textLength="31" lengthAdjust="spacingAndGlyphs">30.00</text><text x="1546.5" y="552" font-size="12" fill="#131722" textLength="31" lengthAdjust="spacingAndGlyphs">70.00</text><rect x="1537" y="531" width="50" height="19" fill="#ffffff"/><text x="1546.5" y="545" font-size="12" fill="#131722" textLength="31" lengthAdjust="spacingAndGlyphs">72.02</text><rect x="1537" y="583" width="50" height="19" fill="#ffffff"/><text x="1546.5" y="597" font-size="12" fill="#131722" textLength="31" lengthAdjust="spacingAndGlyphs">52.62</text><path d="M1537 602 H1582 a2 2 0 0 1 2 2 V619 a2 2 0 0 1 -2 2 H1537 Z" fill="#fde63a"/><text x="1546.5" y="616" font-size="12" fill="#131722" textLength="31" lengthAdjust="spacingAndGlyphs">50.86</text><path d="M1537 663 H1582 a2 2 0 0 1 2 2 V680 a2 2 0 0 1 -2 2 H1537 Z" fill="#7e57c2"/><text x="1546.5" y="677" font-size="12" font-weight="bold" fill="#ffffff" textLength="31" lengthAdjust="spacingAndGlyphs">32.89</text>
<text x="31.70" y="724.0" font-size="12.94" fill="#131722" textLength="20.31" lengthAdjust="spacingAndGlyphs">Apr</text>
<text x="142.90" y="724.0" font-size="12.94" fill="#131722" textLength="23.69" lengthAdjust="spacingAndGlyphs">May</text>
<text x="276.03" y="724.0" font-size="12.94" fill="#131722" textLength="21.60" lengthAdjust="spacingAndGlyphs">Jun</text>
<text x="403.52" y="724.0" font-size="12.94" fill="#131722" textLength="17.79" lengthAdjust="spacingAndGlyphs">Jul</text>
<text x="521.70" y="724.0" font-size="12.94" fill="#131722" textLength="22.06" lengthAdjust="spacingAndGlyphs">Aug</text>
<text x="652.29" y="724.0" font-size="12.94" fill="#131722" textLength="21.58" lengthAdjust="spacingAndGlyphs">Sep</text>
<text x="771.92" y="724.0" font-size="12.94" fill="#131722" textLength="21.26" lengthAdjust="spacingAndGlyphs">Oct</text>
<text x="896.46" y="724.0" font-size="12.94" fill="#131722" textLength="23.22" lengthAdjust="spacingAndGlyphs">Nov</text>
<text x="1022.07" y="724.0" font-size="12.94" fill="#131722" textLength="22.89" lengthAdjust="spacingAndGlyphs">Dec</text>
<text x="1267.36" y="724.0" font-size="12.94" fill="#131722" textLength="22.37" lengthAdjust="spacingAndGlyphs">Feb</text>
<text x="1386.73" y="724.0" font-size="12.94" fill="#131722" textLength="22.93" lengthAdjust="spacingAndGlyphs">Mar</text>
<text x="1508.00" y="724.0" font-size="12.94" fill="#131722" textLength="20.82" lengthAdjust="spacingAndGlyphs">Apr</text>
<text x="1138.29" y="724.0" font-size="14.53" font-weight="bold" fill="#131722" textLength="30.57" lengthAdjust="spacingAndGlyphs">2024</text>
<g fill="#131722"><path d="M5 748.3 H13.8 V759.7 H9.1 V752 H5 Z"/><circle cx="17.2" cy="750.4" r="2.1"/><path d="M20.1 748.3 H26.4 L22.3 759.7 H17.3 Z"/></g>
<text x="30.5" y="760" font-size="14" fill="#131722" textLength="77.2" lengthAdjust="spacingAndGlyphs">TradingView</text>
</svg></body></html>
